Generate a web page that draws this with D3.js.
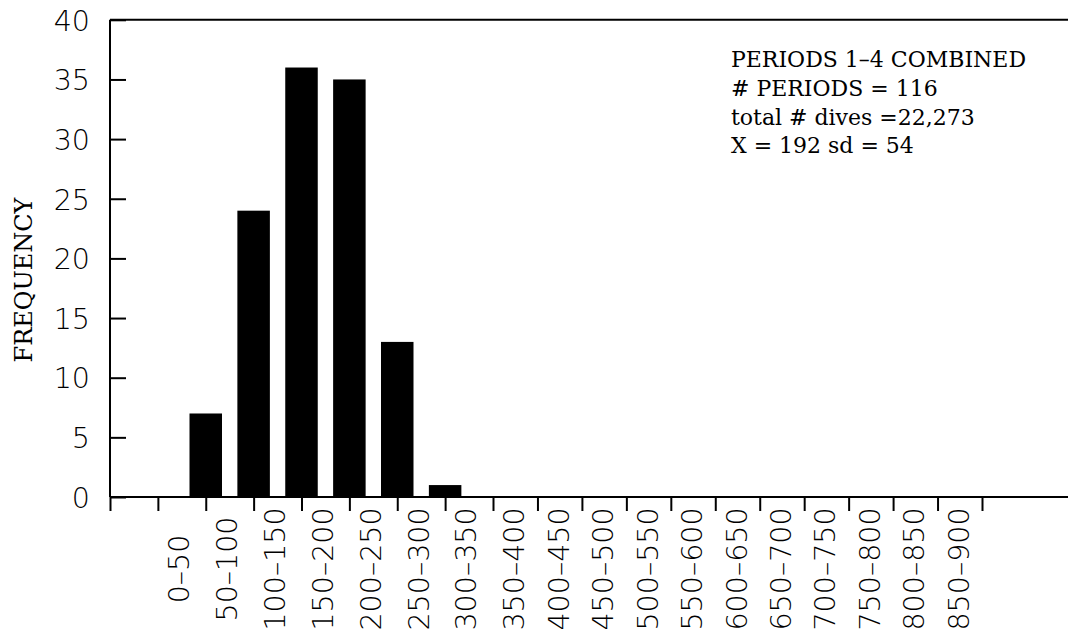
<!DOCTYPE html>
<html>
<head>
<meta charset="utf-8">
<script src="https://cdn.jsdelivr.net/npm/d3@7"></script>
<style>
  html, body { margin: 0; padding: 0; background: #fff; }
  svg { display: block; }
  .num { font-family: "DejaVu Sans", "Liberation Sans", sans-serif; font-weight: 200; font-size: 28.5px; fill: #000; }
  .serif { font-family: "DejaVu Serif", "Liberation Serif", serif; fill: #000; }
</style>
</head>
<body>
<script>
// ---- data ----
const categories = ["0–50","50–100","100–150","150–200","200–250","250–300","300–350","350–400","400–450",
  "450–500","500–550","550–600","600–650","650–700","700–750","750–800","800–850","850–900"];
const frequency = [0, 7, 24, 36, 35, 13, 1, 0, 0, 0, 0, 0, 0, 0, 0, 0, 0, 0];
const yTicks = [0, 5, 10, 15, 20, 25, 30, 35, 40];
const yTitle = "FREQUENCY";
const notes = ["PERIODS 1–4 COMBINED", "# PERIODS = 116", "total # dives =22,273", "X = 192 sd = 54"];

// ---- layout ----
const W = 1068, H = 638;
const svg = d3.select("body").append("svg").attr("width", W).attr("height", H);

// slot index -> x (the scanned original has slightly uneven spacing)
const x = d3.scaleLinear().domain([-1, 7, 18]).range([110, 493, 982]);
const y = d3.scaleLinear().domain([0, 40]).range([497, 19.8]);

const g = svg.append("g");

// bars
g.selectAll("rect.bar")
  .data(frequency.map((v, i) => ({ i, v })).filter(d => d.v > 0))
  .join("rect")
  .attr("class", "bar")
  .attr("x", d => x(d.i) - 16.25)
  .attr("width", 32.5)
  .attr("y", d => y(d.v))
  .attr("height", d => y(0) - y(d.v))
  .attr("fill", "#000");

// y axis (inward ticks)
const yAxis = d3.axisLeft(y).tickValues(yTicks).tickSizeInner(-16).tickSizeOuter(0).tickPadding(20)
  .tickFormat(d3.format("d"));
const ya = g.append("g").attr("transform", `translate(${x(-1)},0)`).call(yAxis);
ya.select(".domain").remove();
ya.selectAll(".tick line").attr("stroke", "#000").attr("stroke-width", 2);
ya.selectAll(".tick text").attr("class", "num").attr("dy", "0.36em");
ya.attr("font-size", null).attr("font-family", null);

// x axis ticks (downward)
const slots = d3.range(-1, 19);
const xAxis = d3.axisBottom(x).tickValues(slots).tickSizeInner(14).tickSizeOuter(0).tickFormat("");
const xa = g.append("g").attr("transform", `translate(0,${y(0)})`).call(xAxis);
xa.select(".domain").remove();
xa.selectAll(".tick line").attr("stroke", "#000").attr("stroke-width", 2);

// frame lines: left axis, bottom axis, top border
g.append("line").attr("x1", x(-1)).attr("x2", x(-1)).attr("y1", y(40)).attr("y2", y(0))
  .attr("stroke", "#000").attr("stroke-width", 2);
g.append("line").attr("x1", x(-1)).attr("x2", W).attr("y1", y(0)).attr("y2", y(0))
  .attr("stroke", "#000").attr("stroke-width", 2);
g.append("line").attr("x1", x(-1)).attr("x2", W).attr("y1", y(40)).attr("y2", y(40))
  .attr("stroke", "#000").attr("stroke-width", 2);

// category labels (rotated)
g.selectAll("text.cat")
  .data(categories)
  .join("text")
  .attr("class", "num")
  .attr("text-anchor", "middle")
  .attr("dy", "0.36em")
  .attr("transform", (d, i) => `translate(${x(i) + 21},569) rotate(-90)`)
  .text(d => d);

// y title
svg.append("text")
  .attr("class", "serif")
  .attr("font-size", 24)
  .attr("text-anchor", "middle")
  .attr("transform", "translate(32,280) rotate(-90)")
  .text(yTitle);

// annotation block
svg.append("g").selectAll("text")
  .data(notes)
  .join("text")
  .attr("class", "serif")
  .attr("font-size", 22)
  .attr("x", 731)
  .attr("y", (d, i) => 67 + i * 28.8)
  .text(d => d);
</script>
</body>
</html>
